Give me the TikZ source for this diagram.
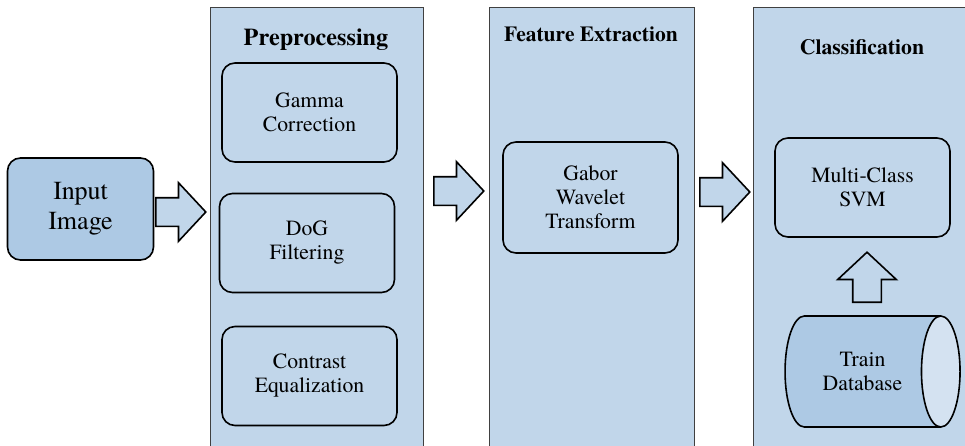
\documentclass[tikz,border=0pt]{standalone}
\usepackage{fontspec}
\setmainfont{texgyretermes}[Extension=.otf, UprightFont=*-regular, BoldFont=*-bold,
  ItalicFont=*-italic, BoldItalicFont=*-bolditalic]
\usetikzlibrary{shapes.geometric,shapes.arrows}

\definecolor{panelblue}{RGB}{193,214,234}
\definecolor{inputblue}{RGB}{173,201,228}
\definecolor{endblue}{RGB}{212,226,241}

\begin{document}
\begin{tikzpicture}[x=1pt, y=-1pt,
  panel/.style={draw=black!75, line width=1.2pt, fill=panelblue, anchor=north west,
    minimum height=460, inner sep=0pt},
  block/.style={draw, line width=1.6pt, rounded corners=13pt, fill=panelblue,
    minimum width=175, minimum height=99, inner sep=0pt, align=center,
    font=\fontsize{21.7}{24}\selectfont},
  bigarrow/.style={single arrow, draw, line width=1.6pt, fill=panelblue,
    minimum height=50, inner xsep=0pt, inner ysep=13.5pt, anchor=tail,
    single arrow head extend=15pt, single arrow tip angle=94}]

  \useasboundingbox (0,0) rectangle (965,445);
  \clip (0,0) rectangle (965,445);

  % Panels
  \node[panel, minimum width=213] (pre) at (210,7) {};
  \node[panel, minimum width=205] (feat) at (489,7) {};
  \node[panel, minimum width=230] (cls) at (753,7) {};

  \node[font=\fontsize{24.2}{26}\selectfont\bfseries] (pretitle) at (316,40) {Preprocessing};
  \node[font=\fontsize{21.5}{24}\selectfont\bfseries] (feattitle) at (591,34) {Feature Extraction};
  \node[font=\fontsize{21.7}{24}\selectfont\bfseries] (clstitle) at (862,47) {Classification};

  % Input
  \node[block, fill=inputblue, minimum width=146, minimum height=102,
    font=\fontsize{26}{30}\selectfont] (in) at (80.5,209) {Input\\Image};

  % Preprocessing steps
  \node[block] (gam) at (309.5,112.5) {Gamma\\Correction};
  \node[block] (dog) at (307,243) {DoG\\Filtering};
  \node[block] (con) at (309.5,376) {Contrast\\Equalization};

  % Features
  \node[block, minimum height=111] (gab) at (590.5,197.5) {Gabor\\Wavelet\\Transform};

  % Classifier
  \node[block] (svm) at (862.5,187.5) {Multi-Class\\SVM};
  \node[cylinder, draw, line width=1.6pt, shape aspect=1,
    cylinder uses custom fill, cylinder body fill=inputblue, cylinder end fill=endblue,
    minimum width=111, minimum height=175, inner sep=0pt, align=center,
    font=\fontsize{21.7}{24}\selectfont] (db) at (862.5,371.5) {Train\\Database};

  % Block arrows
  \node[bigarrow] (a1) at (155,212) {};
  \node[bigarrow] (a2) at (433,191) {};
  \node[bigarrow] (a3) at (699,192) {};
  \node[bigarrow, shape border rotate=90, inner xsep=13.5pt, inner ysep=0pt] (a4) at (867,303) {};
\end{tikzpicture}
\end{document}
